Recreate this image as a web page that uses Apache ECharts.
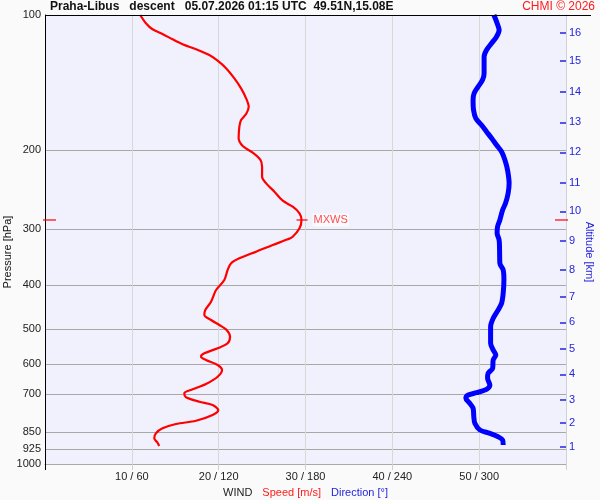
<!DOCTYPE html>
<html><head><meta charset="utf-8">
<script src="https://cdn.jsdelivr.net/npm/echarts@6/dist/echarts.min.js"></script>
<style>html,body{margin:0;padding:0;background:#fafafa}#c{width:600px;height:500px}</style>
</head><body><div id="c"></div>
<script>
// Tick values
const pressureTicks = [100, 200, 300, 400, 500, 600, 700, 850, 925, 1000];
const windTicks = [10, 20, 30, 40, 50];
const altKm = [1, 2, 3, 4, 5, 6, 7, 8, 9, 10, 11, 12, 13, 14, 15, 16];
const altP = [914.8, 809.1, 719.2, 631.2, 553.6, 483.5, 424.1, 369.2, 318.7, 273.7, 236.3, 202.2, 173.4, 148.4, 126.6, 109.5];

// Wind speed profile [m/s] vs pressure [hPa]
const speedP = [100, 104.3, 107.6, 110.2, 113.3, 116.2, 119.2, 122.8, 126.4, 131.4, 138.4, 145.7, 153.3, 160.0, 166.2, 171.4, 177.4, 188.2, 195.8, 202.6, 210.3, 217.7, 229.2, 237.1, 247.5, 259.2, 267.3, 276.5, 286.1, 298.6, 311.7, 315.9, 325.2, 336.6, 348.3, 357.3, 369.8, 389.3, 409.8, 435.1, 453.9, 465.7, 477.8, 490.2, 503.0, 520.6, 538.5, 552.4, 566.8, 576.8, 586.6, 601.8, 617.4, 639.2, 663.4, 681.8, 696.0, 710.4, 726.6, 739.1, 758.3, 778.0, 801.1, 814.7, 832.9, 854.5, 876.7, 896.7, 912.1];
const speedVal = [10.96, 11.62, 12.38, 13.53, 14.69, 15.84, 17.39, 18.92, 19.88, 20.85, 21.81, 22.58, 23.16, 23.46, 23.16, 22.58, 22.38, 22.30, 22.77, 23.92, 24.81, 25.00, 25.00, 25.47, 26.42, 27.38, 28.53, 29.31, 29.54, 29.31, 28.53, 27.96, 26.23, 24.31, 22.38, 21.43, 21.03, 20.65, 19.70, 19.12, 18.46, 18.35, 19.12, 20.08, 20.92, 21.31, 21.03, 19.88, 18.35, 17.96, 18.54, 19.88, 20.39, 19.88, 18.54, 17.00, 16.04, 16.23, 17.77, 19.30, 19.96, 19.30, 17.39, 15.08, 13.53, 12.77, 12.58, 12.96, 13.15];

// Wind direction profile [deg] vs pressure [hPa]
const dirP = [100, 104.3, 108.0, 111.8, 115.6, 119.7, 123.8, 134.9, 139.6, 144.4, 149.4, 154.6, 162.7, 169.9, 175.8, 181.9, 188.2, 194.8, 201.6, 210.3, 221.4, 237.1, 249.6, 262.7, 271.9, 286.1, 296.1, 306.3, 317.1, 333.8, 357.3, 369.8, 389.3, 416.8, 438.6, 453.9, 473.7, 494.6, 538.5, 557.3, 571.7, 586.6, 612.1, 628.1, 644.4, 667.0, 681.9, 693.8, 702.0, 714.0, 732.5, 751.6, 784.7, 811.7, 840.0, 854.3, 869.5, 884.3, 907.3];
const dirVal = [310.2, 312.4, 313.8, 312.0, 308.6, 305.1, 303.4, 303.4, 302.3, 299.3, 296.5, 295.8, 296.1, 297.7, 301.6, 305.1, 308.6, 312.0, 315.5, 317.8, 319.6, 320.7, 320.0, 318.2, 316.2, 314.3, 312.7, 312.4, 313.8, 314.1, 314.3, 316.6, 317.1, 316.6, 315.5, 313.1, 309.7, 307.9, 307.9, 309.7, 311.5, 309.7, 309.3, 306.2, 305.8, 307.4, 305.1, 298.2, 292.4, 290.8, 293.5, 295.8, 296.3, 297.0, 300.5, 307.4, 313.1, 316.2, 316.6];

// Max wind marker
const mxwsP = 286.1;
const mxwsSpeed = 29.6;

const FONT = 'Liberation Sans, Arial, sans-serif';
const BLUE = '#2323e0';
const RED = '#ff1a1a';

const chart = echarts.init(document.getElementById('c'), null, {renderer: 'canvas'});
chart.setOption({
  backgroundColor: '#fafafa',
  animation: false,
  textStyle: {fontFamily: FONT},
  title: [
    {text: 'Praha-Libus   descent   05.07.2026 01:15 UTC  49.51N,15.08E', left: 50, top: 1, padding: 0,
     textStyle: {fontSize: 12, fontWeight: 'bold', color: '#111', fontFamily: FONT}},
    {text: 'CHMI © 2026', right: 5, top: 1, padding: 0,
     textStyle: {fontSize: 12, fontWeight: 'normal', color: RED, fontFamily: FONT}}
  ],
  grid: {left: 45, right: 34, top: 15, bottom: 36, show: true, backgroundColor: '#f1f1fd', borderWidth: 0,
         containLabel: false, outerBoundsMode: 'none'},
  xAxis: [
    {type: 'value', min: 0, max: 60, interval: 10, position: 'bottom',
     axisLine: {show: true, onZero: false, lineStyle: {color: '#a8a8a8'}},
     axisTick: {show: true, length: 6, lineStyle: {color: '#d0d0d0'}},
     splitLine: {show: true, lineStyle: {color: '#d8d8d8'}},
     axisLabel: {customValues: windTicks, formatter: v => v + ' / ' + v * 6, fontSize: 11, color: '#222', margin: 7},
     name: '{w|WIND}   {s|Speed [m/s]}   {d|Direction [°]}', nameLocation: 'middle', nameGap: 19,
     nameTextStyle: {rich: {w: {color: '#222', fontSize: 11}, s: {color: RED, fontSize: 11}, d: {color: BLUE, fontSize: 11}}}},
    {type: 'value', min: 0, max: 360, show: false}
  ],
  yAxis: [
    {type: 'log', logBase: 10, min: 100, max: 1000, inverse: true, position: 'left',
     axisLine: {show: true, onZero: false, lineStyle: {color: '#000'}},
     axisTick: {show: false, customValues: pressureTicks},
     splitLine: {show: true, lineStyle: {color: '#a8a8a8'}},
     axisLabel: {customValues: pressureTicks, formatter: v => String(Math.round(v)), fontSize: 11, color: '#222', margin: 4}},
    {type: 'log', logBase: 10, min: 100, max: 1000, inverse: true, position: 'right',
     axisLine: {show: true, onZero: false, lineStyle: {color: '#d0d0d8'}},
     axisTick: {show: true, inside: true, length: 6, customValues: altP, lineStyle: {color: BLUE, width: 1.5}},
     splitLine: {show: false},
     axisLabel: {customValues: altP, fontSize: 11, color: BLUE, margin: 3,
       formatter: v => {
         let best = 0, bd = Infinity;
         altP.forEach((p, i) => { const d = Math.abs(p - v); if (d < bd) { bd = d; best = i; } });
         return String(altKm[best]);
       }}}
  ],
  series: [
    {type: 'line', name: 'Direction', xAxisIndex: 1, yAxisIndex: 0, symbol: 'none', smooth: 0.3,
     lineStyle: {color: '#0000ff', width: 5}, z: 3,
     data: dirP.map((p, i) => [dirVal[i], p])},
    {type: 'line', name: 'Speed', xAxisIndex: 0, yAxisIndex: 0, symbol: 'none', smooth: 0.3,
     lineStyle: {color: '#ff0000', width: 2.2}, z: 4,
     data: speedP.map((p, i) => [speedVal[i], p])},
    {type: 'scatter', xAxisIndex: 0, yAxisIndex: 0, symbol: 'rect', symbolSize: [11, 1.5], clip: false, z: 5,
     itemStyle: {color: '#ff0000'},
     label: {show: true, position: 'right', distance: 5, formatter: 'MXWS', color: '#ff2020', fontSize: 11,
             backgroundColor: 'rgba(255,255,255,0.8)', padding: [1, 1]},
     data: [[mxwsSpeed, mxwsP]]},
    {type: 'scatter', xAxisIndex: 0, yAxisIndex: 0, symbol: 'rect', symbolSize: [13, 1.5], clip: false, z: 5,
     itemStyle: {color: '#ff0000'}, symbolOffset: [4.5, 0], data: [[0, mxwsP]]},
    {type: 'scatter', xAxisIndex: 0, yAxisIndex: 0, symbol: 'rect', symbolSize: [13, 1.5], clip: false, z: 5,
     itemStyle: {color: '#ff0000'}, symbolOffset: [-4.5, 0], data: [[60, mxwsP]]}
  ],
  graphic: [
    {type: 'line', shape: {x1: 45, y1: 15.5, x2: 591, y2: 15.5}, style: {stroke: '#000', lineWidth: 1}, z: 10},
    {type: 'line', shape: {x1: 45.5, y1: 464, x2: 45.5, y2: 470}, style: {stroke: '#000', lineWidth: 1}, z: 10},
    {type: 'text', x: 8, y: 252, rotation: Math.PI / 2,
     style: {text: 'Pressure [hPa]', fill: '#111', font: '11px ' + FONT, textAlign: 'center', textVerticalAlign: 'middle'}},
    {type: 'text', x: 589, y: 252, rotation: -Math.PI / 2,
     style: {text: 'Altitude [km]', fill: BLUE, font: '11px ' + FONT, textAlign: 'center', textVerticalAlign: 'middle'}}
  ]
});
</script>
</body></html>
